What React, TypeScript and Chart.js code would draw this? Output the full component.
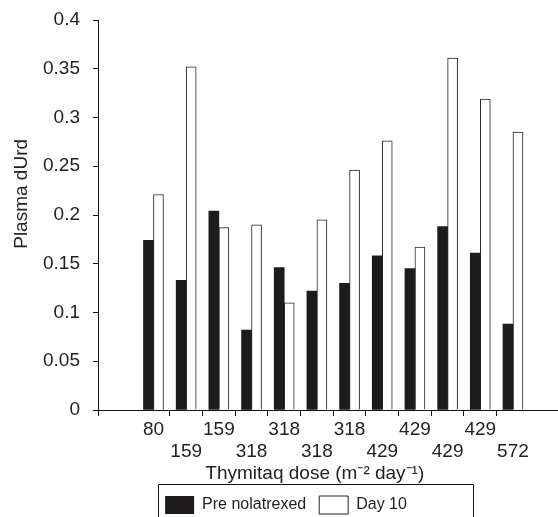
import React, { useEffect, useRef } from 'react';
import { Chart, registerables } from 'chart.js';

Chart.register(...registerables);

// ---- data ----
const categories = ['80', '159', '159', '318', '318', '318', '318', '429', '429', '429', '429', '572'];
const preNolatrexed = [0.174, 0.133, 0.204, 0.082, 0.146, 0.122, 0.130, 0.158, 0.145, 0.188, 0.161, 0.088];
const day10 = [0.221, 0.352, 0.187, 0.190, 0.110, 0.195, 0.246, 0.276, 0.167, 0.361, 0.319, 0.285];
const yTickValues = [0, 0.05, 0.1, 0.15, 0.2, 0.25, 0.3, 0.35, 0.4];
const yTickLabels = ['0', '0.05', '0.1', '0.15', '0.2', '0.25', '0.3', '0.35', '0.4'];
const seriesNames = ['Pre nolatrexed', 'Day 10'];
const xTitle = 'Thymitaq dose (m\u207B\u00B2 day\u207B\u00B9)';
const yTitle = 'Plasma dUrd';

const FONT = '"Liberation Sans", Arial, Helvetica, sans-serif';
const TEXT = '#222';

const X_MIN = -0.698;
const X_MAX = 13.378;

const legendBorder = {
  id: 'legendBorder',
  afterDraw(chart: any) {
    const lg = chart.legend;
    if (!lg || !lg.legendHitBoxes || !lg.legendHitBoxes.length) return;
    const hb = lg.legendHitBoxes;
    const first = hb[0];
    const last = hb[hb.length - 1];
    const ctx = chart.ctx;
    ctx.save();
    ctx.strokeStyle = '#111';
    ctx.lineWidth = 1;
    const l = Math.round(first.left - 7) + 0.5;
    const t = Math.round(first.top - 12) + 0.5;
    const r = Math.round(last.left + last.width + 66) + 0.5;
    ctx.beginPath();
    ctx.moveTo(l, chart.height + 5);
    ctx.lineTo(l, t);
    ctx.lineTo(r, t);
    ctx.lineTo(r, chart.height + 5);
    ctx.stroke();
    ctx.restore();
  },
};

export default function App() {
  const ref = useRef<HTMLCanvasElement>(null);

  useEffect(() => {
    document.body.style.margin = '0';
    const canvas = ref.current;
    if (!canvas) return;
    const isCenter = (v: number) => Math.abs(v - Math.round(v)) < 1e-6 && v >= 1 && v <= categories.length;

    const chart = new Chart(canvas, {
      type: 'bar',
      data: {
        datasets: [
          {
            label: seriesNames[0],
            data: preNolatrexed.map((v, i) => ({ x: i + 1, y: v })),
            backgroundColor: '#1e1b1c',
            borderColor: '#1e1b1c',
            borderWidth: 0,
            barThickness: 10,
          },
          {
            label: seriesNames[1],
            data: day10.map((v, i) => ({ x: i + 1, y: v })),
            backgroundColor: '#ffffff',
            borderColor: '#222',
            borderWidth: 1,
            barThickness: 10,
          },
        ],
      } as any,
      options: {
        responsive: false,
        animation: false,
        devicePixelRatio: 1,
        layout: { padding: { top: 20, right: 0, left: 14, bottom: -7 } },
        plugins: {
          tooltip: { enabled: false },
          legend: {
            position: 'bottom',
            align: 'center',
            labels: {
              boxWidth: 29,
              boxHeight: 18,
              padding: 13,
              color: TEXT,
              font: { family: FONT, size: 16 },
            },
          },
        },
        scales: {
          x: {
            type: 'linear',
            offset: false,
            min: X_MIN,
            max: X_MAX,
            afterBuildTicks: (scale: any) => {
              const t: any[] = [{ value: X_MIN }];
              categories.forEach((_, i) => {
                t.push({ value: i + 1 });
                if (i < categories.length - 1) t.push({ value: i + 1.5 });
              });
              scale.ticks = t;
            },
            afterFit: (scale: any) => {
              scale.height = 73;
              scale.paddingLeft = 0;
              scale.paddingRight = 0;
            },
            ticks: {
              autoSkip: false,
              maxRotation: 0,
              minRotation: 0,
              padding: 2,
              color: TEXT,
              font: { family: FONT, size: 19, lineHeight: 1.2 },
              callback: (value: any) => {
                const v = Number(value);
                if (!isCenter(v)) return '';
                const i = Math.round(v) - 1;
                return i % 2 === 0 ? categories[i] : ['', categories[i]];
              },
            },
            grid: {
              display: true,
              offset: false,
              drawOnChartArea: false,
              drawTicks: true,
              tickLength: 6,
              color: (ctx: any) => (ctx.tick && isCenter(ctx.tick.value) ? 'rgba(0,0,0,0)' : '#111'),
            },
            border: { display: true, color: '#111', width: 1 },
            title: {
              display: true,
              text: xTitle + '     ',
              color: TEXT,
              font: { family: FONT, size: 19, lineHeight: 1.0 },
              padding: { top: 0, bottom: 0 },
            },
          },
          y: {
            type: 'linear',
            min: 0,
            max: 0.4,
            afterBuildTicks: (scale: any) => {
              scale.ticks = yTickValues.map((v) => ({ value: v }));
            },
            afterFit: (scale: any) => {
              scale.width = 84;
              scale.paddingTop = 0;
              scale.paddingBottom = 0;
            },
            ticks: {
              padding: 13,
              color: TEXT,
              font: { family: FONT, size: 19 },
              callback: (value: any) => {
                const idx = yTickValues.findIndex((v) => Math.abs(v - Number(value)) < 1e-9);
                return idx >= 0 ? yTickLabels[idx] : '';
              },
            },
            grid: {
              display: true,
              drawOnChartArea: false,
              drawTicks: true,
              tickLength: 5,
              color: '#111',
            },
            border: { display: true, color: '#111', width: 1 },
            title: {
              display: true,
              text: '        ' + yTitle,
              color: TEXT,
              font: { family: FONT, size: 19, lineHeight: 1.0 },
              padding: { top: -2, bottom: 0 },
            },
          },
        },
      } as any,
      plugins: [legendBorder],
    });
    return () => chart.destroy();
  }, []);

  return (
    <div style={{ width: 558, height: 517, background: '#fff' }}>
      <canvas ref={ref} width={558} height={517} style={{ display: 'block' }} />
    </div>
  );
}
